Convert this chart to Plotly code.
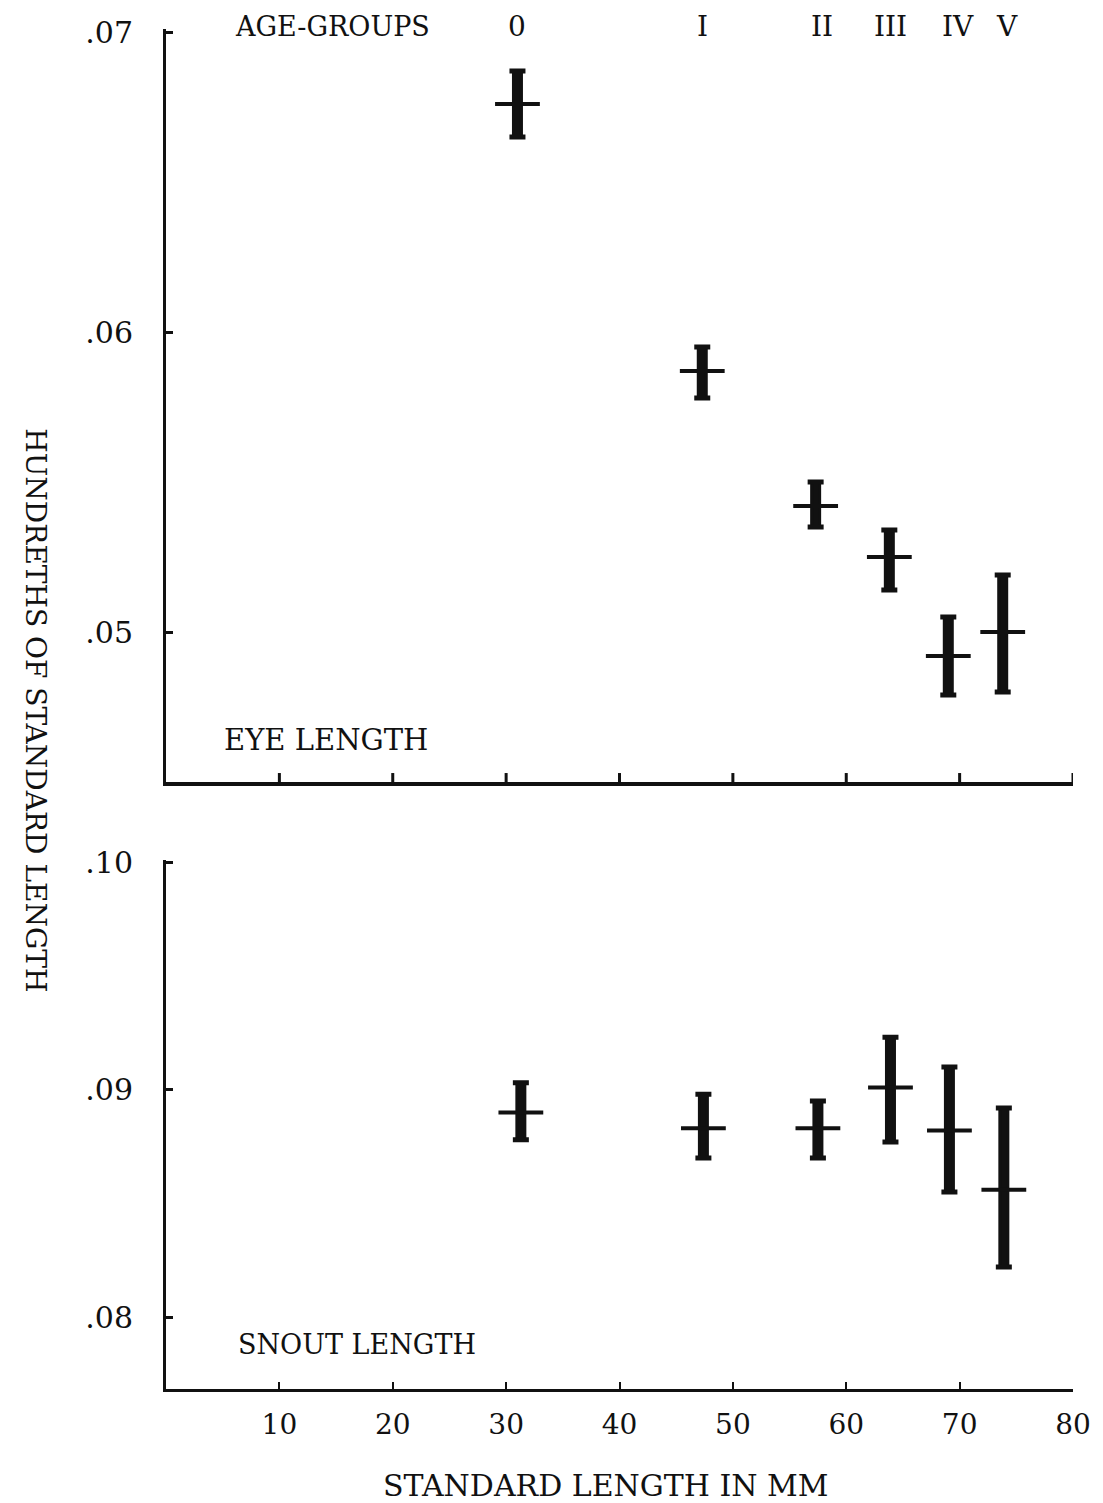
import plotly.graph_objects as go

# ---- data ----
AGE_GROUPS = ["0", "I", "II", "III", "IV", "V"]
AGE_LABEL_X = [31.0, 47.3, 57.9, 63.9, 69.9, 74.2]

EYE_X = [31.0, 47.3, 57.3, 63.8, 69.0, 73.8]
EYE_Y = [0.0676, 0.0587, 0.0542, 0.0525, 0.0492, 0.0500]
EYE_HI = [0.0687, 0.0595, 0.0550, 0.0534, 0.0505, 0.0519]
EYE_LO = [0.0665, 0.0578, 0.0535, 0.0514, 0.0479, 0.0480]

SNOUT_X = [31.3, 47.4, 57.5, 63.9, 69.1, 73.9]
SNOUT_Y = [0.0890, 0.0883, 0.0883, 0.0901, 0.0882, 0.0856]
SNOUT_HI = [0.0903, 0.0898, 0.0895, 0.0923, 0.0910, 0.0892]
SNOUT_LO = [0.0878, 0.0870, 0.0870, 0.0877, 0.0855, 0.0822]

X_TICKS = [10, 20, 30, 40, 50, 60, 70, 80]
EYE_TICKS = [0.07, 0.06, 0.05]
EYE_TICK_TEXT = [".07", ".06", ".05"]
SNOUT_TICKS = [0.10, 0.09, 0.08]
SNOUT_TICK_TEXT = [".10", ".09", ".08"]

FONT = "DejaVu Serif"
INK = "#111111"
FS = 27

fig = go.Figure()


def add_series(x, y, hi, lo, xa, ya):
    plus = [h - v for h, v in zip(hi, y)]
    minus = [v - l for v, l in zip(y, lo)]
    # thick stem
    fig.add_trace(go.Scatter(
        x=x, y=y, mode="markers", xaxis=xa, yaxis=ya,
        marker=dict(size=1, color="rgba(0,0,0,0)"),
        error_y=dict(type="data", symmetric=False, array=plus, arrayminus=minus,
                     thickness=11, width=0, color=INK),
        showlegend=False, hoverinfo="skip"))
    # thin caps + centre bar
    fig.add_trace(go.Scatter(
        x=x, y=y, mode="markers", xaxis=xa, yaxis=ya,
        marker=dict(symbol="line-ew", size=32, line=dict(width=4, color=INK)),
        error_y=dict(type="data", symmetric=False, array=plus, arrayminus=minus,
                     thickness=5, width=8, color=INK),
        showlegend=False))


add_series(EYE_X, EYE_Y, EYE_HI, EYE_LO, "x", "y")
add_series(SNOUT_X, SNOUT_Y, SNOUT_HI, SNOUT_LO, "x2", "y2")

axis_common = dict(showgrid=False, zeroline=False, showline=True,
                   linecolor=INK, mirror=False)

fig.update_layout(
    width=1103, height=1503,
    margin=dict(l=166, r=30, t=29, b=114),
    paper_bgcolor="white", plot_bgcolor="white",
    font=dict(family=FONT, color=INK, size=FS),
    xaxis=dict(**axis_common, range=[0, 80], domain=[0, 1], anchor="y",
               linewidth=4, tickvals=X_TICKS, showticklabels=False,
               ticks=""),
    yaxis=dict(**axis_common, range=[0.045, 0.0701], domain=[0.4463, 1],
               anchor="x", linewidth=3, tickvals=EYE_TICKS,
               ticktext=EYE_TICK_TEXT, ticks="inside", ticklen=7, tickwidth=3,
               tickcolor=INK, ticklabelstandoff=24,
               tickfont=dict(size=30, family=FONT)),
    xaxis2=dict(**axis_common, range=[0, 80], domain=[0, 1], anchor="y2",
                linewidth=3, tickvals=X_TICKS, ticks="inside", ticklen=7,
                tickwidth=2, tickcolor=INK, ticklabelstandoff=8,
                tickfont=dict(size=28, family=FONT)),
    yaxis2=dict(**axis_common, range=[0.07684, 0.1001], domain=[0, 0.389],
                anchor="x2", linewidth=3, tickvals=SNOUT_TICKS,
                ticktext=SNOUT_TICK_TEXT, ticks="inside", ticklen=7,
                tickwidth=3, tickcolor=INK, ticklabelstandoff=24,
                tickfont=dict(size=30, family=FONT)),
)

# crossing ticks on the upper panel's x axis
for v in X_TICKS:
    fig.add_shape(type="line", xref="x", yref="y", x0=v, x1=v,
                  ysizemode="pixel", yanchor=0.045, y0=-9, y1=9,
                  line=dict(color=INK, width=3))

ann = []
ann.append(dict(text="AGE-GROUPS", x=5.9, y=1.0015, xref="x", yref="paper",
                xanchor="left", yanchor="middle", showarrow=False,
                font=dict(size=FS, family=FONT)))
for lab, xv in zip(AGE_GROUPS, AGE_LABEL_X):
    ann.append(dict(text=lab, x=xv, y=1.0015, xref="x", yref="paper",
                    xanchor="center", yanchor="middle", showarrow=False,
                    font=dict(size=28, family=FONT)))
ann.append(dict(text="EYE LENGTH", x=4.9, y=0.0464, xref="x", yref="y",
                xanchor="left", yanchor="middle", showarrow=False,
                font=dict(size=29, family=FONT)))
ann.append(dict(text="SNOUT LENGTH", x=6.2, y=0.0788, xref="x2", yref="y2",
                xanchor="left", yanchor="middle", showarrow=False,
                font=dict(size=FS, family=FONT)))
ann.append(dict(text="STANDARD LENGTH IN MM", x=0.485, y=-0.071,
                xref="paper", yref="paper", xanchor="center",
                yanchor="middle", showarrow=False,
                font=dict(size=30, family=FONT)))
ann.append(dict(text="HUNDRETHS OF STANDARD LENGTH", x=-0.1433, y=0.499,
                xref="paper", yref="paper", xanchor="center",
                yanchor="middle", textangle=90, showarrow=False,
                font=dict(size=28, family=FONT)))
fig.update_layout(annotations=ann)

fig.write_html("out.html")
